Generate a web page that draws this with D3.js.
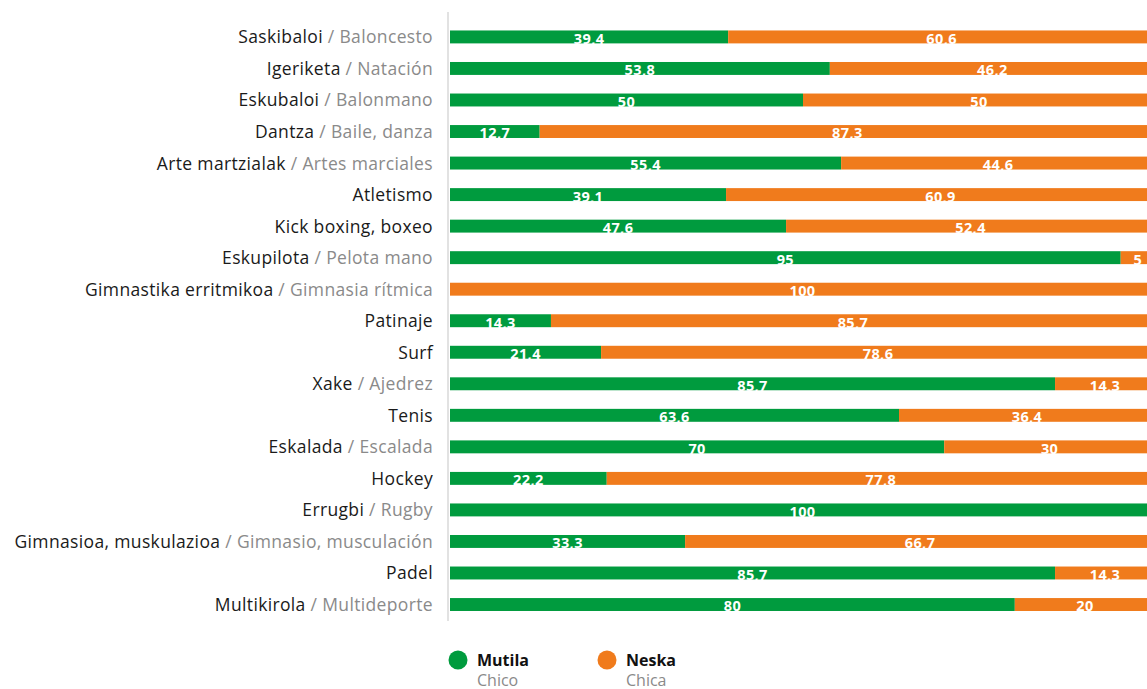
<!DOCTYPE html>
<html>
<head>
<meta charset="utf-8">
<script src="https://cdn.jsdelivr.net/npm/d3@7"></script>
<style>
  body { margin: 0; background: #fff; font-family: "Open Sans", "Lato", sans-serif; }
</style>
</head>
<body>
<div id="chart"></div>
<script>
// Basque name / Spanish name ("" when the same)
const sportsEu = ["Saskibaloi", "Igeriketa", "Eskubaloi", "Dantza", "Arte martzialak", "Atletismo",
  "Kick boxing, boxeo", "Eskupilota", "Gimnastika erritmikoa", "Patinaje", "Surf", "Xake", "Tenis",
  "Eskalada", "Hockey", "Errugbi", "Gimnasioa, muskulazioa", "Padel", "Multikirola"];
const sportsEs = ["Baloncesto", "Natación", "Balonmano", "Baile, danza", "Artes marciales", "",
  "", "Pelota mano", "Gimnasia rítmica", "", "", "Ajedrez", "",
  "Escalada", "", "Rugby", "Gimnasio, musculación", "", "Multideporte"];
const mutila = [39.4, 53.8, 50, 12.7, 55.4, 39.1, 47.6, 95, 0, 14.3, 21.4, 85.7, 63.6, 70, 22.2, 100, 33.3, 85.7, 80];
const neska  = [60.6, 46.2, 50, 87.3, 44.6, 60.9, 52.4, 5, 100, 85.7, 78.6, 14.3, 36.4, 30, 77.8, 0, 66.7, 14.3, 20];

const seriesKeys = ["mutila", "neska"];
const seriesNames = ["Mutila", "Neska"];
const seriesSub = ["Chico", "Chica"];
const colors = ["#009b3e", "#f07b1c"];

const width = 1147, height = 689;
const margin = { top: 21, left: 450 };

const rows = sportsEu.map((eu, i) => ({ eu, es: sportsEs[i], mutila: mutila[i], neska: neska[i] }));

const svg = d3.select("#chart").append("svg")
  .attr("width", width)
  .attr("height", height);

const x = d3.scaleLinear().domain([0, 100]).range([margin.left, margin.left + 706]);
const y = d3.scaleBand().domain(d3.range(rows.length))
  .range([margin.top, margin.top + 31.55 * rows.length]).paddingInner(0.59).paddingOuter(0.3);

const stack = d3.stack().keys(seriesKeys)(rows);

const fmt = v => String(v).replace(".", ",");

// bars
const layers = svg.selectAll("g.layer")
  .data(stack)
  .enter().append("g")
  .attr("class", "layer")
  .attr("fill", (d, i) => colors[i]);

layers.selectAll("rect")
  .data(d => d.map((s, i) => ({ s, i })))
  .enter().append("rect")
  .attr("x", d => x(d.s[0]))
  .attr("y", d => y(d.i))
  .attr("width", d => x(d.s[1]) - x(d.s[0]))
  .attr("height", y.bandwidth());

// value labels (drawn after all bars so none is covered)
const labelData = [];
stack.forEach(layer => layer.forEach((s, i) => {
  if (s[1] - s[0] > 0) labelData.push({ s, i });
}));

svg.append("g").selectAll("text")
  .data(labelData)
  .enter().append("text")
  .attr("x", d => Math.min((x(d.s[0]) + x(d.s[1])) / 2, (x(d.s[0]) + width) / 2 + 4))
  .attr("y", d => y(d.i) + y.bandwidth() + 0.5)
  .attr("text-anchor", "middle")
  .attr("fill", "#fff")
  .attr("font-size", 14.5)
  .attr("font-weight", 700)
  .attr("letter-spacing", 0.4)
  .text(d => fmt(Math.round((d.s[1] - d.s[0]) * 10) / 10));

// axis line
svg.append("line")
  .attr("x1", margin.left - 2).attr("x2", margin.left - 2)
  .attr("y1", 12).attr("y2", 621)
  .attr("stroke", "#e2e2e2").attr("stroke-width", 2);

// category labels
const labels = svg.append("g").selectAll("text")
  .data(rows)
  .enter().append("text")
  .attr("x", 433)
  .attr("y", (d, i) => y(i) + y.bandwidth() / 2 + 6.5)
  .attr("text-anchor", "end")
  .attr("font-size", 17.5)
  .attr("letter-spacing", 0.35);

labels.append("tspan").attr("fill", "#1a1a1a").text(d => d.eu);
labels.filter(d => d.es).append("tspan").attr("fill", "#8a8a8a").text(d => " / " + d.es);

// legend
const legend = svg.append("g").selectAll("g")
  .data(seriesNames)
  .enter().append("g")
  .attr("transform", (d, i) => `translate(${458 + i * 149},660)`);

legend.append("circle").attr("r", 9.5).attr("fill", (d, i) => colors[i]);
legend.append("text").attr("x", 19).attr("y", 6)
  .attr("font-size", 16).attr("font-weight", 700).attr("fill", "#111")
  .text(d => d);
legend.append("text").attr("x", 19).attr("y", 26)
  .attr("font-size", 16).attr("fill", "#8a8a8a")
  .text((d, i) => seriesSub[i]);
</script>
</body>
</html>
